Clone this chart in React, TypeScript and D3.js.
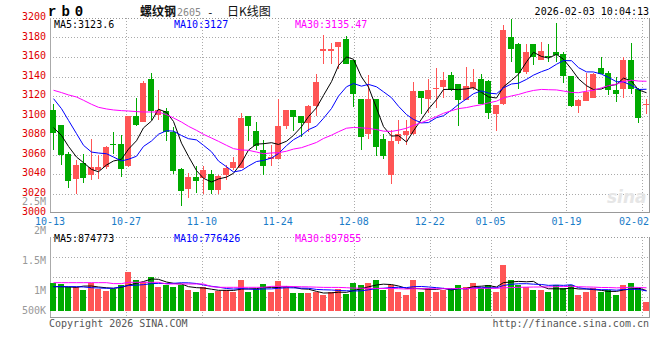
import React from "react";
import * as d3 from "d3";

// ---- data ----
const opens = [3106, 3089.9, 3060.1, 3035.1, 3051.6, 3038.6, 3043.7, 3047.1, 3071.1, 3071.1,
  3047.8, 3099.2, 3093.3, 3137.2, 3100.2, 3104.3, 3083.1, 3045.4, 3024.8, 3036.8,
  3035.8, 3039.6, 3023.8, 3038.6, 3046.4, 3046.1, 3099.2, 3083.8, 3064.3, 3055.7,
  3055.7, 3088.9, 3105.3, 3099.2, 3092.3, 3109.4, 3166.3, 3166.3, 3170.4, 3178.3,
  3156.7, 3116.6, 3080.7, 3116.6, 3076.2, 3038.6, 3073.8, 3079.6, 3081.4, 3124.9,
  3117.4, 3126.9, 3129.3, 3141.3, 3132, 3116.3, 3128.6, 3137.9, 3135.5, 3101.2,
  3111.5, 3180.7, 3173.8, 3144.7, 3173.1, 3156.7, 3160.8, 3165.3, 3162.9, 3140.3,
  3109.4, 3114.9, 3118.4, 3148.8, 3143.7, 3125.9, 3127.6, 3156.7, 3127.6, 3111.2];
const highs = [3112.2, 3089.9, 3062.5, 3054, 3060.1, 3076.2, 3059.1, 3068.3, 3083.1, 3079.6,
  3099.5, 3118.4, 3135.1, 3143.7, 3125.9, 3108, 3088.2, 3046.1, 3040.9, 3048.1,
  3048.1, 3044.4, 3039.2, 3048.8, 3057.4, 3102.6, 3099.5, 3093.3, 3074.5, 3070,
  3117.4, 3106, 3106, 3099.5, 3110.5, 3142.3, 3182.4, 3174.5, 3175.5, 3181.4,
  3157.4, 3117.4, 3141.3, 3117.4, 3081.4, 3085.5, 3095.7, 3095.1, 3134.4, 3125.2,
  3137.9, 3149.2, 3144.7, 3144.7, 3132.7, 3149.9, 3148.1, 3142.3, 3136.2, 3111.2,
  3192.7, 3198.5, 3174.5, 3173.8, 3173.8, 3174.9, 3173.1, 3195.1, 3165.3, 3140.6,
  3116.6, 3143.7, 3143.7, 3160.1, 3145.4, 3139.6, 3159.5, 3174.5, 3128.3, 3117.3];
const lows = [3065, 3048.8, 3025.5, 3019.7, 3030.7, 3034.1, 3035.1, 3045.4, 3060.1, 3036.8,
  3047.1, 3088.9, 3093, 3095.1, 3095.7, 3073.8, 3039.6, 3007, 3015.6, 3020.4,
  3019.7, 3019, 3019.7, 3033.4, 3044.4, 3045.7, 3073.8, 3064.3, 3039.2, 3048.1,
  3055.3, 3086.5, 3084.1, 3078, 3083.1, 3099.2, 3153.3, 3153.3, 3148.1, 3153.3,
  3108.8, 3064.3, 3076.2, 3058.1, 3055.7, 3029.7, 3071.1, 3069.4, 3079.6, 3101.2,
  3102.6, 3108.2, 3118.4, 3125.2, 3088.9, 3115.6, 3125.9, 3112.2, 3096.8, 3084.1,
  3111.2, 3155, 3127.6, 3142.3, 3151.6, 3156.7, 3155, 3155, 3133.4, 3108.8,
  3102.6, 3114.6, 3118.4, 3143, 3120.7, 3113.9, 3118.4, 3122.5, 3092.3, 3101.9];
const closes = [3082, 3059.1, 3032.7, 3048.8, 3035.8, 3047.1, 3047.1, 3067.3, 3069.4, 3044.7,
  3099.2, 3089.9, 3133.4, 3104.6, 3105.3, 3083.1, 3043, 3022.1, 3036.8, 3032.4,
  3043.7, 3023.8, 3037.9, 3046.1, 3052.2, 3097.8, 3088.9, 3068.3, 3048.1, 3057.4,
  3088.9, 3105.3, 3098.5, 3092.3, 3109.4, 3134.4, 3168.7, 3168.7, 3175.2, 3153.3,
  3122.5, 3078, 3116.6, 3067.7, 3058.1, 3073.8, 3080.7, 3083.8, 3124.9, 3118,
  3125.9, 3128.3, 3136.2, 3125.9, 3116.3, 3130, 3134.4, 3112.2, 3102.6, 3110.5,
  3187.5, 3167.7, 3143.7, 3165.3, 3160.1, 3166, 3159.5, 3162.5, 3140.3, 3109.4,
  3116.3, 3124.2, 3143, 3143, 3125.9, 3122.5, 3157.4, 3127.6, 3097.8, 3111.5];
// volume in thousands of lots
const volumes = [1124, 1112, 1067, 1067, 1012, 1134, 1028, 1000, 1023, 1095,
  1318, 1179, 1150, 1234, 1067, 1095, 1067, 1095, 1012, 983,
  1067, 967, 1000, 1012, 973, 1179, 983, 1023, 1112, 983,
  1167, 1067, 967, 967, 957, 983, 928, 983, 1023, 945,
  1129, 1095, 1129, 1179, 1012, 1095, 978, 928, 1179, 978,
  1045, 978, 1012, 1045, 1095, 1062, 1129, 1045, 1095, 978,
  1430, 1179, 1095, 1062, 1012, 1012, 978, 1095, 1045, 1095,
  928, 978, 1045, 978, 1012, 928, 1095, 1129, 1045, 811];

const ma5Lead = [3087.5, 3079.6, 3068.3, 3057.4];
const ma10Lead = [3117.3, 3107, 3095, 3081.4, 3069.4, 3062.5, 3061.5, 3060.8, 3057.4];
const ma30Lead = [3125.9, 3123.5, 3121.1, 3119, 3115.6, 3111.5, 3108.4, 3106.7, 3105.7, 3105,
  3104.6, 3104, 3103.6, 3103.6, 3103.6, 3100.9, 3097.5, 3093.3, 3088.9, 3084.8,
  3080.7, 3076.9, 3073.5, 3069.4, 3066, 3064.6, 3064.3, 3062.5, 3060.8];
const volMa5Lead = [1067, 1067, 1062, 1056];
const volMa10Lead = [1067, 1067, 1067, 1067, 1062, 1050, 1045, 1040, 1040];
const volMa30Lead = [1134, 1134, 1134, 1134, 1134, 1134, 1134, 1134, 1118, 1118,
  1140, 1140, 1140, 1140, 1140, 1112, 1112, 1112, 1112, 1112,
  1112, 1067, 1056, 1056, 1056, 1056, 1056, 1056, 1056];

const tickIndex = [0, 10, 20, 30, 40, 50, 58, 68, 78];
const tickLabels = ["10-13", "10-27", "11-10", "11-24", "12-08", "12-22", "01-05", "01-19", "02-02"];
const priceTicks = [3000, 3020, 3040, 3060, 3080, 3100, 3120, 3140, 3160, 3180, 3200];
const volTicks = [500, 1000, 1500, 2000, 2500];
const volTickLabels = ["500K", "1M", "1.5M", "2M", "2.5M"];

const maLabels = ["MA5:3123.6", "MA10:3127", "MA30:3135.47"];
const volMaLabels = ["MA5:874773", "MA10:776426", "MA30:897855"];

// ---- styles ----
const RED = "#ff5555";
const GREEN = "#00aa00";
const MA_COLORS = ["#000000", "#0000ff", "#ff00ff"];
const MONO = "'DejaVu Sans Mono', 'Liberation Mono', monospace";

function movingAvg(vals: number[], n: number, lead: number[]) {
  return vals.map((_, i) => (i < n - 1 ? lead[i] : (d3.mean(vals.slice(i - n + 1, i + 1)) as number)));
}

export default function App() {
  const W = 660, H = 360;
  const L = 50, R = 650;
  const pTop = 18, pBot = 213;
  const vTop = 237, vBot = 318, vBase = 311;
  const n = closes.length;
  const idx = d3.range(n);

  const xBand = d3.scaleBand<number>().domain(idx).range([L, R]).paddingInner(0.2).paddingOuter(0);
  const step = (R - L) / n;
  const left = (i: number) => Math.round(L + i * step);
  const cx = (i: number) => left(i) + 3;
  const gridX = d3.scaleLinear().domain([0, n - 1]).range([L, R]);
  const y = d3.scaleLinear().domain([3000, 3200]).range([pBot, pTop]);
  const yv = d3.scaleLinear().domain([660, 2500]).range([vBase, 201]);

  const ma = [movingAvg(closes, 5, ma5Lead), movingAvg(closes, 10, ma10Lead), movingAvg(closes, 30, ma30Lead)];
  const vma = [movingAvg(volumes, 5, volMa5Lead), movingAvg(volumes, 10, volMa10Lead), movingAvg(volumes, 30, volMa30Lead)];

  const linePrice = d3.line<number>().x((_, i) => cx(i) + 0.5).y((d) => y(d));
  const lineVol = d3.line<number>().x((_, i) => cx(i) + 0.5).y((d) => yv(d));

  const bw = Math.round(xBand.bandwidth());

  return (
    <svg width={W} height={H} style={{ position: "fixed", left: 0, top: 0, background: "#fff" }}
      shapeRendering="crispEdges">
      <rect x={0} y={0} width={W} height={H} fill="#fff" />
      {/* header */}
      <text x={48} y={16} fontFamily="'Liberation Mono', monospace" fontWeight="bold" fontSize={14}
        letterSpacing={5} fill="#000">rb0</text>
      <text x={140} y={15.5} fontFamily="'Noto Sans CJK SC'" fontSize={12} fontWeight="bold" fill="#111">螺纹钢</text>
      <text x={177} y={15.5} fontFamily={MONO} fontSize={10} fill="#888">2605</text>
      <text x={207} y={15.5} fontFamily={MONO} fontSize={11} fill="#111">-</text>
      <text x={227} y={15.5} fontFamily="'Noto Sans CJK SC'" fontSize={12} fill="#111">日K线图</text>
      <text x={649} y={15} textAnchor="end" fontFamily={MONO} fontSize={10} fill="#000">2026-02-03 10:04:13</text>

      {/* price grid */}
      {priceTicks.map((t) => (
        <g key={"pt" + t}>
          {t !== 3000 && (
            <line x1={L} x2={R} y1={Math.round(y(t)) + 0.5} y2={Math.round(y(t)) + 0.5}
              stroke="#aaa" strokeDasharray="1,2" />
          )}
          <text x={46} y={y(t) + 2} textAnchor="end" fontFamily={MONO} fontSize={10} fill="#e00000">{t}</text>
        </g>
      ))}
      {tickIndex.slice(1).map((ti) => (
        <g key={"vg" + ti}>
          <line x1={Math.round(gridX(ti)) + 0.5} x2={Math.round(gridX(ti)) + 0.5} y1={pTop} y2={pBot}
            stroke="#aaa" strokeDasharray="1,2" />
          <line x1={Math.round(gridX(ti)) + 0.5} x2={Math.round(gridX(ti)) + 0.5} y1={vTop} y2={vBot}
            stroke="#aaa" strokeDasharray="1,2" />
        </g>
      ))}
      {/* price frame */}
      <line x1={L} x2={R} y1={pTop + 0.5} y2={pTop + 0.5} stroke="#999" strokeDasharray="1,2" />
      <line x1={L + 0.5} x2={L + 0.5} y1={pTop} y2={pBot} stroke="#aaa" />
      <line x1={R - 0.5} x2={R - 0.5} y1={pTop} y2={pBot} stroke="#999" />
      <line x1={L} x2={R} y1={pBot - 0.5} y2={pBot - 0.5} stroke="#999" />

      {/* watermark */}
      <text x={607} y={203} fontFamily="'DejaVu Sans'" fontSize={17} fontStyle="italic" fontWeight="bold"
        fill="#e6e6e6">sina</text>

      {/* candles */}
      {idx.map((i) => {
        const up = closes[i] >= opens[i];
        const c = up ? RED : GREEN;
        const top = Math.round(y(Math.max(opens[i], closes[i])));
        const bot = Math.round(y(Math.min(opens[i], closes[i])));
        return (
          <g key={"c" + i}>
            <rect x={cx(i)} y={Math.round(y(highs[i]))} width={1}
              height={Math.max(1, Math.round(y(lows[i])) - Math.round(y(highs[i])))} fill={c} />
            <rect x={left(i)} y={top} width={bw} height={Math.max(1, bot - top)} fill={c} />
          </g>
        );
      })}
      {/* price MAs */}
      {ma.map((m, k) => (
        <path key={"ma" + k} d={linePrice(m) || ""} fill="none" stroke={MA_COLORS[k]} strokeWidth={1}
          shapeRendering="auto" />
      ))}
      {maLabels.map((s, k) => (
        <text key={"mal" + k} x={[54, 174, 295][k]} y={28} fontFamily={MONO} fontSize={10} fill={MA_COLORS[k]}>{s}</text>
      ))}

      {/* date axis */}
      {tickIndex.map((ti, k) => {
        const gx = gridX(ti);
        const lx = Math.min(Math.max(gx, L), R - 16);
        return (
          <text key={"d" + ti} x={lx} y={225} textAnchor="middle" fontFamily={MONO} fontSize={10}
            fill="#1a7cc8">{tickLabels[k]}</text>
        );
      })}

      {/* volume panel */}
      {[257, 277, 297].map((gy) => (
        <line key={"vh" + gy} x1={L} x2={R} y1={gy + 0.5} y2={gy + 0.5} stroke="#aaa" strokeDasharray="1,2" />
      ))}
      {volTicks.map((t, k) => (
        <text key={"vt" + t} x={46} y={Math.min(yv(t), 310) + 3.5} textAnchor="end" fontFamily={MONO} fontSize={10}
          fill="#999">{volTickLabels[k]}</text>
      ))}
      <line x1={L} x2={R} y1={vTop + 0.5} y2={vTop + 0.5} stroke="#999" strokeDasharray="1,2" />
      <line x1={L + 0.5} x2={L + 0.5} y1={vTop} y2={vBot} stroke="#aaa" />
      <line x1={R - 0.5} x2={R - 0.5} y1={vTop} y2={vBot} stroke="#999" />
      <line x1={L} x2={R} y1={vBot - 0.5} y2={vBot - 0.5} stroke="#999" />
      {idx.map((i) => {
        const up = closes[i] >= opens[i];
        const top = Math.round(yv(volumes[i]));
        return <rect key={"v" + i} x={left(i)} y={top} width={bw} height={vBase - top} fill={up ? RED : GREEN} />;
      })}
      {vma.map((m, k) => (
        <path key={"vma" + k} d={lineVol(m) || ""} fill="none" stroke={MA_COLORS[k]} strokeWidth={1}
          shapeRendering="auto" />
      ))}
      {volMaLabels.map((s, k) => (
        <text key={"vml" + k} x={[54, 174, 295][k]} y={242} fontFamily={MONO} fontSize={10} fill={MA_COLORS[k]}>{s}</text>
      ))}

      {/* footer */}
      <text x={49} y={327} fontFamily={MONO} fontSize={10} fill="#555">Copyright 2026 SINA.COM</text>
      <text x={649} y={327} textAnchor="end" fontFamily={MONO} fontSize={10} fill="#555">http://finance.sina.com.cn</text>
    </svg>
  );
}
